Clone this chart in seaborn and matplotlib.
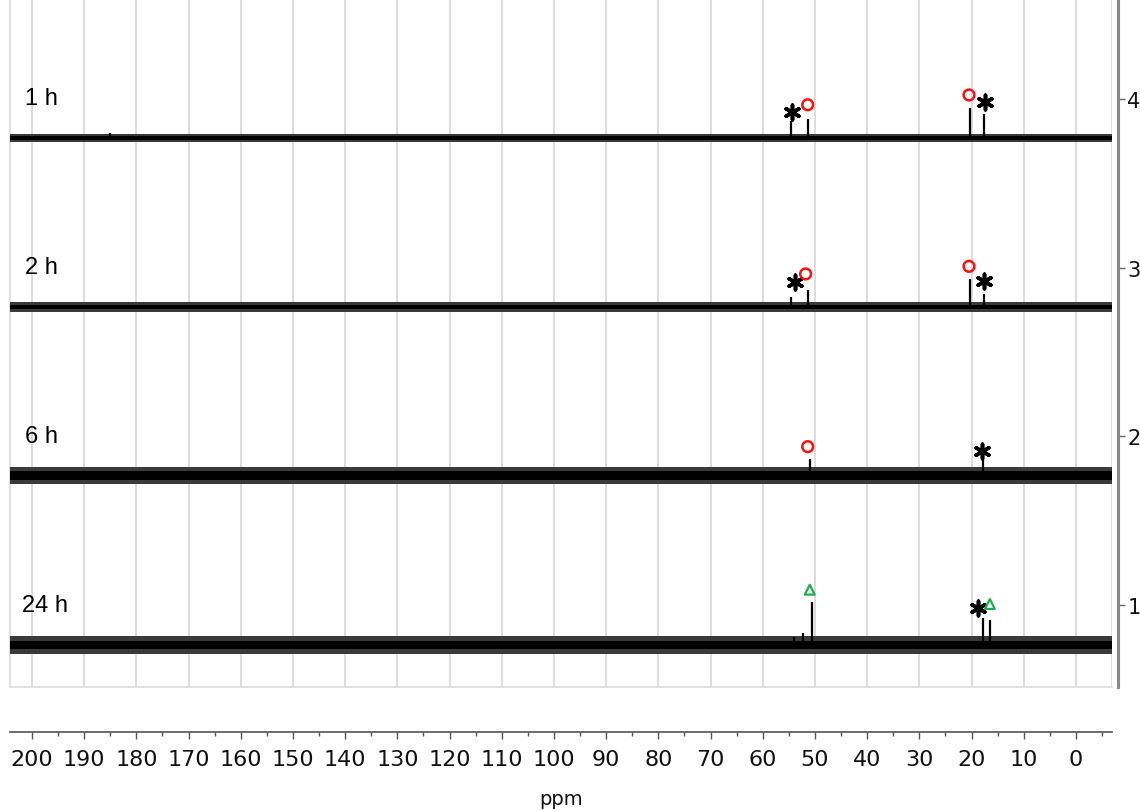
"""
13C NMR time series (1 h, 2 h, 6 h, 24 h) - stacked spectra with peak annotations
"""
import matplotlib
matplotlib.use("Agg")
import matplotlib.pyplot as plt
import pandas as pd
import seaborn as sns

# --- data ------------------------------------------------------------------
trace_labels = ["1 h", "2 h", "6 h", "24 h"]
trace_baseline = [3.769, 2.767, 1.768, 0.763]
noise_core = [0.012, 0.014, 0.024, 0.026]     # half-width of dense noise band
noise_outer = [0.024, 0.028, 0.048, 0.052]    # half-width of sparse noise tips

peaks_1h_ppm = [185.0, 54.5, 51.3, 20.3, 17.6]
peaks_1h_height = [0.030, 0.100, 0.113, 0.180, 0.140]
peaks_2h_ppm = [54.5, 51.3, 20.3, 17.7]
peaks_2h_height = [0.060, 0.100, 0.166, 0.077]
peaks_6h_ppm = [51.0, 17.8]
peaks_6h_height = [0.100, 0.107]
peaks_24h_ppm = [54.0, 52.2, 50.6, 17.8, 16.5]
peaks_24h_height = [0.050, 0.070, 0.255, 0.160, 0.150]

# annotation symbols (ppm, stacked-axis value)
asterisk_ppm = [54.4, 17.4, 53.8, 17.6, 17.95, 18.7]
asterisk_y = [3.923, 3.984, 2.913, 2.919, 1.912, 0.981]
circle_ppm = [51.4, 20.5, 51.8, 20.5, 51.4]
circle_y = [3.966, 4.024, 2.963, 3.008, 1.939]
triangle_ppm = [51.0, 16.5]
triangle_y = [1.091, 1.006]

x_ticks = list(range(0, 201, 10))
y_ticks = [1, 2, 3, 4]

X_LEFT, X_RIGHT = 204.2, -6.9
Y_LOW, Y_HIGH = 0.514, 4.593

peak_sets = [
    (peaks_1h_ppm, peaks_1h_height),
    (peaks_2h_ppm, peaks_2h_height),
    (peaks_6h_ppm, peaks_6h_height),
    (peaks_24h_ppm, peaks_24h_height),
]

# --- figure ----------------------------------------------------------------
sns.set_style("white")
plt.rcParams["font.family"] = ["DejaVu Sans"]

W, H = 1140, 812
fig = plt.figure(figsize=(W / 100, H / 100), dpi=100)
ax = fig.add_axes([10 / W, 1 - 688 / H, (1112 - 10) / W, 688 / H])

ax.set_xlim(X_LEFT, X_RIGHT)
ax.set_ylim(Y_LOW, Y_HIGH)

# vertical grid
ax.set_xticks(x_ticks)
ax.grid(axis="x", color="#dcdcdc", lw=1.4)
ax.grid(axis="y", visible=False)
ax.tick_params(axis="x", bottom=False, labelbottom=False)

# spectra: noise band + peaks
for base, core, outer, (pp, hh) in zip(trace_baseline, noise_core, noise_outer, peak_sets):
    band = pd.DataFrame({"ppm": [X_LEFT, X_RIGHT]})
    ax.fill_between(band["ppm"], base - outer, base + outer, color="#3a3a3a", lw=0, zorder=3)
    ax.fill_between(band["ppm"], base - core, base + core, color="black", lw=0, zorder=3)
    ax.vlines(pp, base, [base + h for h in hh], color="black", lw=1.6, zorder=4)

for lab, base in zip(trace_labels, trace_baseline):
    ax.text(201.3 if lab != "24 h" else 201.9, base + 0.236, lab, fontsize=17,
            ha="left", va="center", color="black",
            family=["Liberation Sans", "DejaVu Sans"], zorder=5)

# annotation symbols
ast = pd.DataFrame({"ppm": asterisk_ppm, "y": asterisk_y})
circ = pd.DataFrame({"ppm": circle_ppm, "y": circle_y})
tri = pd.DataFrame({"ppm": triangle_ppm, "y": triangle_y})
sns.scatterplot(data=ast, x="ppm", y="y", marker=(6, 2, 0), s=110,
                color="black", linewidth=2.6, ax=ax, zorder=6)
sns.scatterplot(data=circ, x="ppm", y="y", marker="o", s=60,
                facecolor="none", edgecolor="#ff1010", linewidth=1.8, ax=ax, zorder=6)
sns.scatterplot(data=tri, x="ppm", y="y", marker="^", s=50,
                facecolor="none", edgecolor="#1fae4b", linewidth=1.6, ax=ax, zorder=6)
ax.set_xlabel("")
ax.set_ylabel("")

# right-hand stack axis
ax.yaxis.tick_right()
ax.set_yticks(y_ticks)
ax.tick_params(axis="y", right=True, length=5, width=1, color="#666666",
               labelsize=15, pad=2, labelcolor="#111111")
for side in ["left", "bottom"]:
    ax.spines[side].set_color("#dcdcdc")
    ax.spines[side].set_linewidth(1.2)
ax.spines["top"].set_visible(False)
ax.spines["right"].set_position(("outward", 4))
ax.spines["right"].set_color("#8a8a8a")
ax.spines["right"].set_linewidth(2.2)
ax.axvline(X_RIGHT, color="#dcdcdc", lw=1.2, zorder=1)

# separate ppm scale underneath
axb = fig.add_axes([10 / W, 1 - 733 / H, (1112 - 10) / W, 0.0001])
axb.set_xlim(X_LEFT, X_RIGHT)
axb.set_yticks([])
axb.patch.set_alpha(0)
for side in ["left", "right", "top"]:
    axb.spines[side].set_visible(False)
axb.spines["bottom"].set_color("#555555")
axb.spines["bottom"].set_linewidth(1.2)
axb.set_xticks(x_ticks)
axb.set_xticks(list(range(-5, 205, 10)), minor=True)
axb.tick_params(axis="x", which="major", bottom=True, length=5, width=1,
                color="#555555", labelsize=16, pad=7, labelcolor="#111111")
axb.tick_params(axis="x", which="minor", bottom=True, length=3, width=1, color="#555555")
axb.set_xlabel("ppm", fontsize=14, labelpad=15, color="#111111")

fig.savefig("out.png", dpi=100)
plt.close(fig)
